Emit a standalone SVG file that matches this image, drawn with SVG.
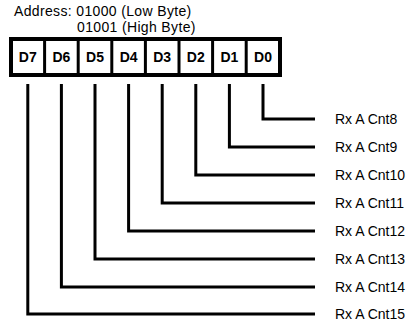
<svg xmlns="http://www.w3.org/2000/svg" width="414" height="327" viewBox="0 0 414 327">
<style>
text{font-family:"Liberation Sans",Arial,sans-serif;fill:#000}
.hdr{font-size:14px;letter-spacing:0.35px}
.cell{font-size:14px;font-weight:bold;text-anchor:middle}
.lbl{font-size:14px}
.frame{fill:#fff;stroke:#000;stroke-width:4}
.sep{stroke:#000;stroke-width:3}
.wire{fill:none;stroke:#000;stroke-width:3}
</style>
<rect width="414" height="327" fill="#fff"/>
<g id="header">
<text class="hdr" x="14" y="16">Address: 01000 (Low Byte)</text>
<text class="hdr" x="77" y="32">01001 (High Byte)</text>
</g>
<g id="register">
<rect class="frame" x="11" y="39" width="269" height="36"/>
<line class="sep" x1="44.6" y1="39" x2="44.6" y2="75"/>
<line class="sep" x1="78.2" y1="39" x2="78.2" y2="75"/>
<line class="sep" x1="111.8" y1="39" x2="111.8" y2="75"/>
<line class="sep" x1="145.4" y1="39" x2="145.4" y2="75"/>
<line class="sep" x1="179" y1="39" x2="179" y2="75"/>
<line class="sep" x1="212.6" y1="39" x2="212.6" y2="75"/>
<line class="sep" x1="246.2" y1="39" x2="246.2" y2="75"/>
<text class="cell" x="27.8" y="62">D7</text>
<text class="cell" x="61.4" y="62">D6</text>
<text class="cell" x="95" y="62">D5</text>
<text class="cell" x="128.6" y="62">D4</text>
<text class="cell" x="162.2" y="62">D3</text>
<text class="cell" x="195.8" y="62">D2</text>
<text class="cell" x="229.4" y="62">D1</text>
<text class="cell" x="263" y="62">D0</text>
</g>
<g id="connectors">
<polyline class="wire" points="263,84 263,119 315,119"/>
<polyline class="wire" points="229.4,84 229.4,147 315,147"/>
<polyline class="wire" points="195.8,84 195.8,175 315,175"/>
<polyline class="wire" points="162.2,84 162.2,203 315,203"/>
<polyline class="wire" points="128.6,84 128.6,231 315,231"/>
<polyline class="wire" points="95,84 95,259 315,259"/>
<polyline class="wire" points="61.4,84 61.4,287 315,287"/>
<polyline class="wire" points="27.8,84 27.8,314 315,314"/>
</g>
<g id="labels">
<text class="lbl" x="335" y="123.5">Rx A Cnt8</text>
<text class="lbl" x="335" y="151.5">Rx A Cnt9</text>
<text class="lbl" x="335" y="179.5">Rx A Cnt10</text>
<text class="lbl" x="335" y="207.5">Rx A Cnt11</text>
<text class="lbl" x="335" y="235.5">Rx A Cnt12</text>
<text class="lbl" x="335" y="263.5">Rx A Cnt13</text>
<text class="lbl" x="335" y="291.5">Rx A Cnt14</text>
<text class="lbl" x="335" y="318.5">Rx A Cnt15</text>
</g>
</svg>
